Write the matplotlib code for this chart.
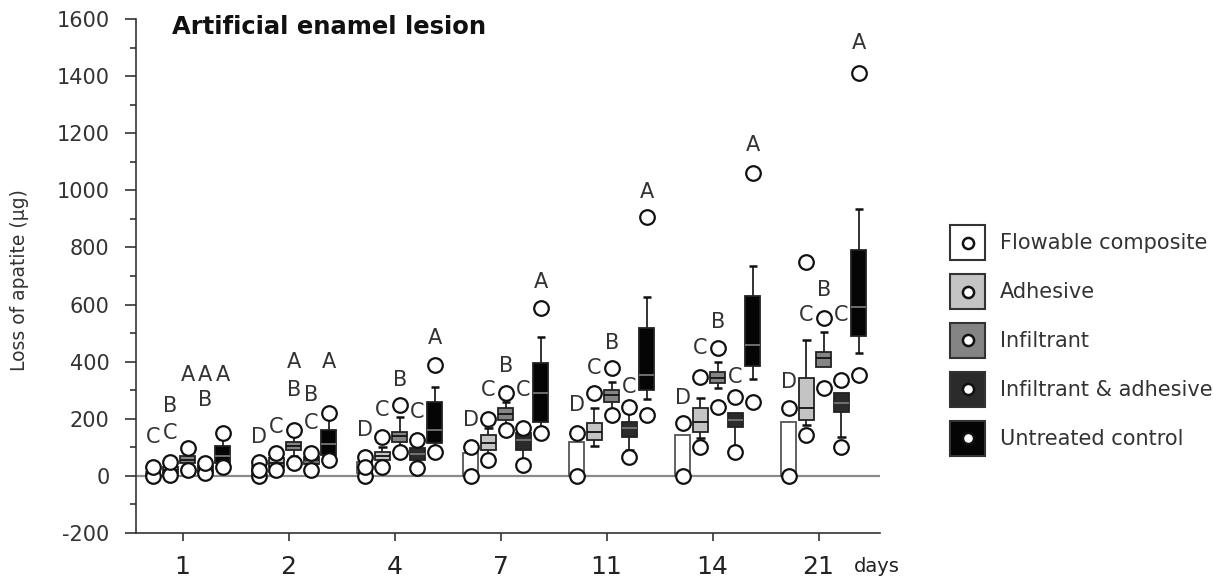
import numpy as np
import matplotlib.pyplot as plt
from matplotlib.patches import Rectangle
from matplotlib.lines import Line2D
from matplotlib.legend_handler import HandlerBase
from matplotlib.ticker import MultipleLocator

nan = np.nan

# days and materials
days = ['1', '2', '4', '7', '11', '14', '21']
materials = ['Flowable composite', 'Adhesive', 'Infiltrant',
             'Infiltrant & adhesive', 'Untreated control']
box_colors = ['white', '#c4c4c4', '#848484', '#2b2b2b', '#050505']

# box statistics, rows = days, columns = materials (loss of apatite in µg)
q1 = np.array([
    [0, 10, 45, 15, 45],
    [5, 31, 90, 40, 73],
    [10, 56, 119, 56, 115],
    [0, 91, 196, 91, 189],
    [0, 126, 259, 136, 300],
    [0, 154, 325, 171, 385],
    [0, 196, 381, 224, 490],
])
med = np.array([
    [5, 20, 55, 22, 70],
    [20, 45, 105, 50, 110],
    [30, 70, 140, 75, 160],
    [nan, 116, 217, 126, 290],
    [nan, 154, 283, 168, 353],
    [nan, 189, 343, 196, 458],
    [nan, 238, 412, 255, 590],
])
q3 = np.array([
    [12, 30, 70, 35, 103],
    [35, 63, 120, 65, 161],
    [50, 84, 154, 98, 259],
    [80, 143, 238, 150, 396],
    [119, 185, 301, 189, 518],
    [143, 238, 364, 220, 630],
    [189, 343, 434, 290, 791],
])
whis_lo = np.array([
    [nan, nan, nan, nan, nan],
    [nan, nan, 70, nan, 60],
    [nan, nan, 100, 35, 100],
    [nan, 70, 168, 56, 170],
    [nan, 103, 231, 91, 268],
    [nan, 133, 308, 98, 340],
    [nan, 179, nan, 136, 430],
])
whis_hi = np.array([
    [nan, nan, nan, nan, 130],
    [nan, 75, 140, nan, 206],
    [nan, 100, 206, nan, 311],
    [nan, 168, 259, nan, 487],
    [nan, 238, 329, 220, 627],
    [nan, 273, 399, nan, 735],
    [nan, 476, 504, nan, 935],
])
# single values shown as circles (min / max)
pts_lo = np.array([
    [0, 3, 21, 10, 31],
    [0, 21, 45, 21, 56],
    [0, 31, 84, 28, 84],
    [0, 56, 161, 38, 150],
    [0, nan, 213, 66, 213],
    [0, 101, 241, 84, 259],
    [0, 143, 308, 101, 354],
])
pts_hi = np.array([
    [30, 49, 98, 45, 150],
    [49, 80, 161, 80, 220],
    [65, 137, 248, 126, 389],
    [101, 200, 290, 168, 588],
    [150, 290, 378, 241, 905],
    [185, 347, 448, 276, 1060],
    [238, 749, 553, 336, 1410],
])
# a few extra flowable composite values (day index, value)
extra_day = [1, 2]
extra_val = [21, 30]

# significance letters (top to bottom) and their heights
letters = [
    ['C', 'BC', 'A', 'AB', 'A'],
    ['D', 'C', 'AB', 'BC', 'A'],
    ['D', 'C', 'B', 'C', 'A'],
    ['D', 'C', 'B', 'C', 'A'],
    ['D', 'C', 'B', 'C', 'A'],
    ['D', 'C', 'B', 'C', 'A'],
    ['D', 'C', 'B', 'C', 'A'],
]
letter_y = [
    [[137], [243, 150], [354], [354, 266], [354]],
    [[137], [172], [399, 301], [283, 185], [399]],
    [[161], [231], [336], [224], [483]],
    [[196], [301], [385], [301], [680]],
    [[248], [378], [465], [311], [995]],
    [[273], [448], [539], [347], [1158]],
    [[329], [563], [651], [563], [1515]],
]


class SquareDot(HandlerBase):
    # legend key: shaded square with a small open circle in the middle
    def create_artists(self, legend, orig_handle, xdescent, ydescent,
                       width, height, fontsize, trans):
        sq = Rectangle((-xdescent, -ydescent), width, height,
                       facecolor=orig_handle.get_facecolor(),
                       edgecolor='#333', lw=1.5, transform=trans)
        dot = Line2D([-xdescent + width / 2], [-ydescent + height / 2],
                     ls='', marker='o', ms=8, mfc='white', mec='#111',
                     mew=1.8, transform=trans)
        return [sq, dot]


plt.rcParams['font.family'] = ['DejaVu Sans']
plt.rcParams['axes.unicode_minus'] = False

fig = plt.figure(figsize=(12.13, 5.82), dpi=100)
ax = fig.add_axes([0.1121, 0.0842, 0.6134, 0.8832])

x_day = np.arange(len(days))
offs = (np.arange(len(materials)) - 2) * 0.165
bw = 0.14
capw = 0.08
circ = dict(ls='', marker='o', ms=10.5, mfc='white', mec='#111', mew=1.6, zorder=5)

ax.axhline(0, color='#8a8a8a', lw=1.6, zorder=1)

for j, mat in enumerate(materials):
    xs = x_day + offs[j]
    dark = j >= 3
    # whiskers
    ax.vlines(xs, q3[:, j], whis_hi[:, j], color='#111', lw=1.2, zorder=2)
    ax.vlines(xs, whis_lo[:, j], q1[:, j], color='#111', lw=1.2, zorder=2)
    ax.hlines(whis_hi[:, j], xs - capw / 2, xs + capw / 2, color='#111', lw=1.8, zorder=2)
    ax.hlines(whis_lo[:, j], xs - capw / 2, xs + capw / 2, color='#111', lw=1.8, zorder=2)
    # boxes
    ax.bar(xs, q3[:, j] - q1[:, j], bottom=q1[:, j], width=bw,
           color=box_colors[j], edgecolor='#222' if j else '#555',
           lw=1.3, zorder=3)
    ax.hlines(med[:, j], xs - bw / 2, xs + bw / 2,
              color='#777' if dark else '#111', lw=1.3, zorder=4)
    # circles
    ax.plot(xs, pts_lo[:, j], **circ)
    ax.plot(xs, pts_hi[:, j], **circ)
    # letters
    for i in range(len(days)):
        for ch, yy in zip(letters[i][j], letter_y[i][j]):
            ax.text(xs[i], yy, ch, ha='center', va='center', fontsize=15,
                    color='#333', zorder=6)

ax.plot(x_day[extra_day] + offs[0], extra_val, **circ)

ax.set_xlim(-0.49, 6.53)
ax.set_ylim(-200, 1600)
ax.yaxis.set_major_locator(MultipleLocator(200))
ax.yaxis.set_minor_locator(MultipleLocator(100))
ax.set_xticks(x_day - 0.05)
ax.set_xticklabels(days, fontsize=18, color='#222')
ax.tick_params(axis='x', length=6, width=1.2, pad=10, color='#333')
ax.tick_params(axis='y', which='major', length=8, width=1.2, pad=11,
               labelsize=15, labelcolor='#333', color='#333')
ax.tick_params(axis='y', which='minor', length=4, width=1.2, color='#333')
for s in ['top', 'right']:
    ax.spines[s].set_visible(False)
for s in ['left', 'bottom']:
    ax.spines[s].set_color('#333')
    ax.spines[s].set_linewidth(1.2)

ax.text(6.5, -0.066, 'days', transform=ax.get_xaxis_transform(),
        ha='center', va='center', fontsize=14, color='#222')

fig.text(20 / 1213, 0.519, 'Loss of apatite (µg)', rotation=90,
         ha='center', va='center', fontsize=13.5, color='#333')
fig.text(172 / 1213, 0.954, 'Artificial enamel lesion', ha='left',
         va='center', fontsize=17.5, fontweight='bold', color='#111')

handles = [Rectangle((0, 0), 1, 1, facecolor=c) for c in box_colors]
ax.legend(handles, materials, handler_map={Rectangle: SquareDot()},
          loc='upper left', bbox_to_anchor=(950 / 1213, 1 - 225 / 582),
          bbox_transform=fig.transFigure, frameon=False, fontsize=15,
          handlelength=1.68, handleheight=2.21, labelspacing=0.67,
          handletextpad=0.72, borderpad=0, borderaxespad=0,
          labelcolor='#333')

fig.savefig('out.png', dpi=100)
